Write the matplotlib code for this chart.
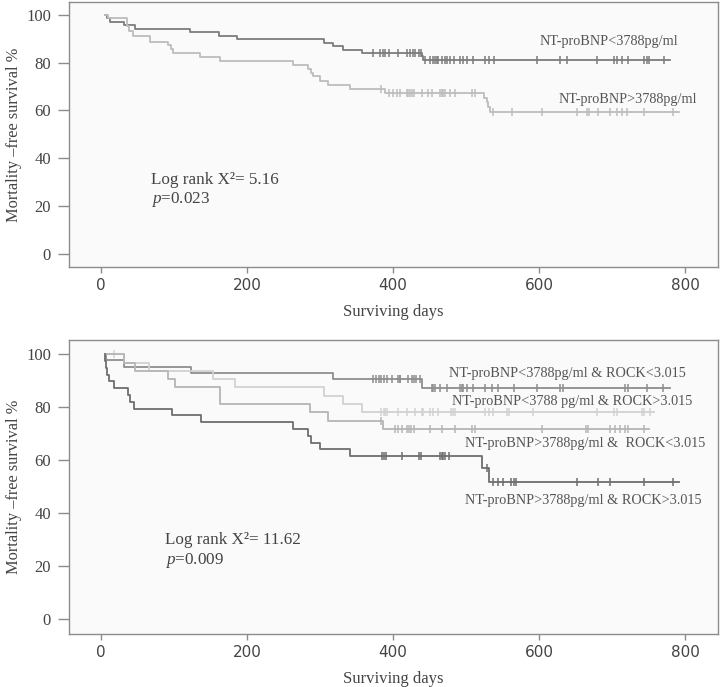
import numpy as np
import matplotlib
matplotlib.use("Agg")
import matplotlib.pyplot as plt

plt.rcParams['font.family'] = ['Liberation Serif', 'DejaVu Serif']
plt.rcParams['mathtext.fontset'] = 'custom'
plt.rcParams['mathtext.rm'] = 'Liberation Serif'
plt.rcParams['mathtext.it'] = 'Liberation Serif:italic'

# ---- top panel: NT-proBNP groups ----
low_t = [5, 8, 12, 31, 47, 122, 161, 186, 305, 318, 332, 357, 439, 441]
low_s = [100, 98.55, 97.1, 95.65, 94.2, 92.75, 91.3, 89.85, 88.4, 86.95, 85.5, 84.05, 82.6, 81.15]
low_end = 779
low_cens = [373, 382, 386, 389, 394, 407, 419, 423, 427, 430, 436, 438, 444, 451, 455, 458,
            460, 462, 467, 471, 474, 478, 483, 492, 496, 501, 510, 526, 531, 538, 597, 629,
            638, 679, 702, 706, 713, 722, 743, 748, 751, 771]

high_t = [5, 10, 35, 38, 44, 67, 92, 96, 99, 136, 163, 263, 284, 287, 290, 300, 311, 341,
          389, 524, 528, 530, 533]
high_s = [100, 98.5, 95.5, 93.2, 91.0, 88.8, 87.4, 85.6, 84.0, 82.5, 80.5, 79.0, 77.5, 75.8,
          74.3, 72.4, 70.7, 69.0, 67.2, 65.1, 63.5, 61.5, 59.2]
high_end = 791
high_cens = [384, 394, 400, 405, 410, 419, 421, 423, 426, 428, 439, 448, 453, 464, 467, 469,
             471, 478, 485, 508, 512, 537, 563, 604, 652, 665, 668, 681, 697, 706, 713, 720,
             743, 784]

# ---- bottom panel: NT-proBNP x ROCK groups ----
ll_t = [5, 7, 32, 123, 318, 439]
ll_s = [100, 97.7, 95.4, 93.1, 90.8, 87.2]
ll_end = 779
ll_cens = [373, 377, 381, 384, 387, 391, 398, 407, 409, 410, 421, 426, 428, 432, 437, 453,
           455, 458, 464, 474, 492, 494, 496, 501, 510, 526, 535, 544, 565, 597, 629, 633,
           718, 722, 748, 770]

lh_t = [5, 32, 65, 153, 184, 305, 332, 357]
lh_s = [100, 96.9, 93.8, 90.6, 87.5, 84.4, 81.3, 78.1]
lh_end = 757
lh_cens = [17, 384, 387, 389, 391, 407, 419, 430, 439, 441, 451, 455, 462, 479, 482, 485,
           526, 531, 537, 556, 559, 592, 679, 702, 706, 741, 744, 752]

hl_t = [5, 32, 46, 92, 101, 163, 286, 311, 386]
hl_s = [100, 96.9, 93.8, 90.6, 87.5, 81.3, 78.1, 75.0, 71.9]
hl_end = 750
hl_cens = [384, 403, 407, 412, 419, 422, 425, 428, 451, 467, 485, 508, 512, 604, 664, 667,
           697, 704, 711, 718, 722, 743]

hh_t = [5, 6, 7, 8, 11, 18, 37, 40, 45, 97, 137, 263, 284, 288, 300, 341, 522, 531]
hh_s = [100, 97.44, 94.88, 92.32, 89.76, 87.2, 84.64, 82.08, 79.52, 76.96, 74.4, 71.84,
        69.28, 66.72, 64.16, 61.6, 57.1, 51.7]
hh_end = 791
hh_cens = [385, 388, 390, 412, 435, 438, 464, 467, 469, 471, 476, 528, 537, 544, 550, 561,
           566, 569, 652, 681, 697, 743, 784]


def km(ax, t, s, end, cens, color):
    t = np.array(t, float)
    s = np.array(s, float)
    ax.step(np.append(t, end), np.append(s, s[-1]), where='post', color=color, lw=1.3)
    c = np.array(cens, float)
    cs = s[np.searchsorted(t, c, side='right') - 1]
    ax.plot(c, cs, ls='none', marker='|', ms=6, mew=1.1, color=color)


def style(ax):
    ax.set_facecolor('#fafafa')
    ax.set_xlim(-44, 845)
    ax.set_ylim(-5.5, 105.4)
    for sp in ax.spines.values():
        sp.set_color('#8c8c8c')
        sp.set_linewidth(1.0)
    ax.set_xticks([0, 200, 400, 600, 800])
    ax.set_yticks([0, 20, 40, 60, 80, 100])
    ax.tick_params(axis='y', length=8, width=1, color='#8c8c8c', pad=5,
                   labelsize=12, labelcolor='#444444')
    ax.tick_params(axis='x', length=4, width=1, color='#8c8c8c', pad=4,
                   labelsize=11, labelcolor='#444444')
    for lab in ax.get_xticklabels():
        lab.set_fontfamily('DejaVu Sans')
    ax.set_xlabel('Surviving days', fontsize=12, color='#444444', labelpad=8)
    ax.set_ylabel('Mortality \u2013free survival %', fontsize=11.8, color='#444444', labelpad=3)


fig = plt.figure(figsize=(7.2, 6.87), dpi=100)
ax1 = fig.add_axes([0.0958, 0.6114, 0.9014, 0.3857])
ax2 = fig.add_axes([0.0958, 0.0771, 0.9014, 0.428])

km(ax1, low_t, low_s, low_end, low_cens, '#7c7c7c')
km(ax1, high_t, high_s, high_end, high_cens, '#bdbdbd')
style(ax1)
lab_kw = dict(fontsize=10.3, color='#555555', va='center', ha='left')
ax1.text(601, 88.7, 'NT-proBNP<3788pg/ml', **lab_kw)
ax1.text(626, 64.4, 'NT-proBNP>3788pg/ml', **lab_kw)
ax1.text(69, 31, 'Log rank X\u00b2= 5.16', fontsize=12.3, color='#444444', va='center')
ax1.text(69, 22.6, '$p$=0.023', fontsize=12.3, color='#444444', va='center')

km(ax2, ll_t, ll_s, ll_end, ll_cens, '#8e8e8e')
km(ax2, lh_t, lh_s, lh_end, lh_cens, '#d2d2d2')
km(ax2, hl_t, hl_s, hl_end, hl_cens, '#b5b5b5')
km(ax2, hh_t, hh_s, hh_end, hh_cens, '#6e6e6e')
style(ax2)
ax2.text(476, 92.6, 'NT-proBNP<3788pg/ml & ROCK<3.015', **lab_kw)
ax2.text(480, 82.1, 'NT-proBNP<3788 pg/ml & ROCK>3.015', **lab_kw)
ax2.text(499, 66.4, 'NT-proBNP>3788pg/ml &  ROCK<3.015', **lab_kw)
ax2.text(499, 45.0, 'NT-proBNP>3788pg/ml & ROCK>3.015', **lab_kw)
ax2.text(88, 29.9, 'Log rank X\u00b2= 11.62', fontsize=12.3, color='#444444', va='center')
ax2.text(88, 22.4, '$p$=0.009', fontsize=12.3, color='#444444', va='center')

fig.savefig('out.png', dpi=100, facecolor='white')
